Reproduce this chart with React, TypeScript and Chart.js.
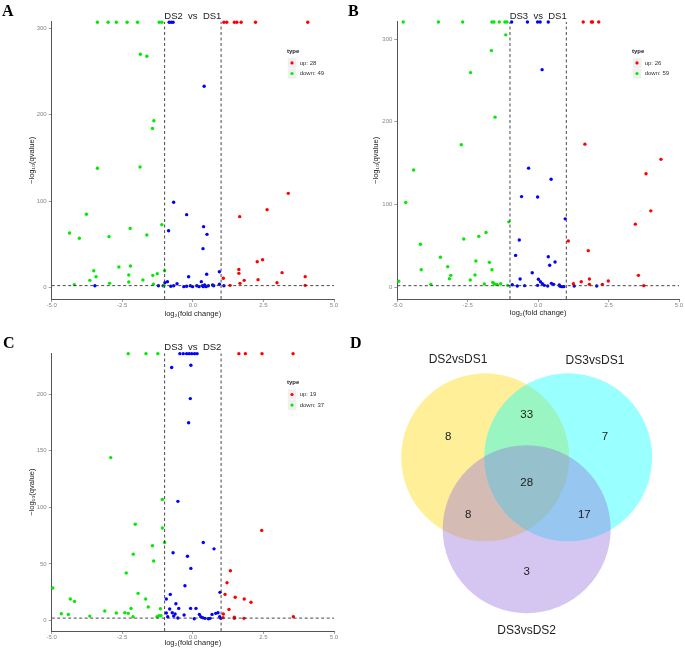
import React, { useEffect, useRef } from 'react';
import { Chart, registerables } from 'chart.js';

Chart.register(...registerables);
Chart.defaults.font.family = '"Liberation Sans", Arial, sans-serif';

type P = [number, number];

// ---------- data ----------
const X_TICKS = [-5, -2.5, 0, 2.5, 5];
const A_Y_TICKS = [0, 100, 200, 300];
const B_Y_TICKS = [0, 100, 200, 300];
const C_Y_TICKS = [0, 50, 100, 150, 200];
const FC_CUTOFF = 1;
const Q_CUTOFF = 2;

const PANEL_TITLES = ['DS2  vs  DS1', 'DS3  vs  DS1', 'DS3  vs  DS2'];
const LEGEND_UP = [28, 26, 19];
const LEGEND_DOWN = [49, 59, 37];

const A_UP: P[] = [
  [1.1, 307], [1.2, 307], [1.47, 307], [1.56, 307], [1.71, 307], [2.22, 307], [4.07, 307],
  [3.38, 108.9], [2.63, 90.0], [1.66, 81.9], [2.47, 32.0], [2.28, 29.7], [1.63, 20.8], [1.63, 16.2],
  [3.16, 17.0], [3.98, 12.4], [1.08, 10.5], [1.82, 8.1], [2.31, 8.9], [1.67, 4.6], [2.98, 5.4],
  [1.32, 2.3], [3.98, 2.3],
];
const A_DOWN: P[] = [
  [-3.38, 307], [-3.0, 307], [-2.71, 307], [-2.33, 307], [-1.96, 307], [-1.19, 307], [-1.1, 307],
  [-1.86, 270.0], [-1.63, 267.6], [-1.38, 193.0], [-1.43, 184.0], [-3.38, 138.0], [-1.87, 139.4],
  [-3.77, 84.6], [-4.37, 63.0], [-4.02, 56.8], [-2.97, 58.7], [-2.22, 68.3], [-1.63, 60.6], [-1.1, 72.6],
  [-3.51, 19.3], [-3.43, 12.3], [-3.65, 8.1], [-4.2, 3.1], [-2.62, 23.5], [-2.21, 24.7], [-2.27, 14.3],
  [-2.27, 6.2], [-2.95, 4.6], [-1.77, 8.5], [-1.42, 13.9], [-1.26, 15.8], [-1.0, 19.3], [-1.4, 3.5],
  [-1.02, 2.0],
];
const A_NS: P[] = [
  [-0.84, 307], [-0.77, 307], [-0.7, 307],
  [0.4, 233.0], [-0.68, 98.5], [-0.22, 84.2], [-0.86, 65.6], [0.38, 70.3], [0.5, 61.4], [0.36, 44.8],
  [0.94, 18.1], [0.49, 15.1], [-0.15, 12.3],
  [-3.47, 1.9], [-1.22, 1.9], [-1.05, 1.9], [-0.99, 5.4], [-0.9, 6.6], [-0.78, 1.2], [-0.68, 1.9],
  [-0.56, 4.2], [-0.32, 0.8], [-0.22, 1.2], [-0.09, 1.9], [-0.01, 0.8], [0.14, 1.9], [0.22, 0.8],
  [0.3, 6.6], [0.34, 1.9], [0.37, 0.8], [0.42, 2.7], [0.47, 0.8], [0.55, 1.9], [0.7, 2.7], [0.74, 1.9],
  [0.94, 3.5], [1.1, 1.9],
];

const B_UP: P[] = [
  [1.6, 320.5], [1.89, 320.5], [1.93, 320.5], [2.15, 320.5],
  [1.66, 173.0], [4.36, 154.6], [3.83, 137.3], [4.0, 92.4], [3.45, 76.3], [1.07, 56.0], [1.78, 44.3],
  [3.56, 14.5], [1.82, 10.0], [1.82, 3.6], [1.25, 4.4], [1.53, 6.8], [2.49, 7.6], [2.28, 3.6], [3.75, 2.0],
];
const B_DOWN: P[] = [
  [-4.79, 320.5], [-3.54, 320.5], [-2.68, 320.5], [-1.64, 320.5], [-1.57, 320.5], [-1.38, 320.5],
  [-1.18, 320.5], [-1.11, 320.5],
  [-1.15, 305.0], [-1.66, 286.0], [-2.4, 259.4], [-1.53, 205.6], [-2.73, 172.3], [-4.42, 141.8],
  [-4.7, 102.4], [-1.04, 79.1], [-1.85, 66.3],
  [-4.95, 7.3], [-4.18, 52.0], [-4.15, 21.3], [-3.81, 3.6], [-3.47, 36.3], [-3.21, 25.0], [-3.1, 14.5],
  [-3.15, 10.4], [-2.64, 58.4], [-2.11, 61.6], [-2.21, 31.8], [-2.24, 14.9], [-2.41, 8.9], [-1.91, 4.0],
  [-1.73, 30.2], [-1.64, 21.3], [-1.61, 6.0], [-1.58, 4.8], [-1.52, 3.6], [-1.46, 3.6], [-1.33, 4.4],
  [-1.08, 2.4],
];
const B_NS: P[] = [
  [-0.94, 320.5], [-0.38, 320.5], [-0.02, 320.5], [0.07, 320.5], [0.36, 320.5],
  [0.14, 263.0], [-0.34, 144.0], [0.46, 130.5], [-0.59, 109.6], [-0.02, 109.2], [0.96, 82.7],
  [-0.92, 3.2], [-0.74, 1.6], [-0.48, 2.0], [-0.67, 57.2], [-0.8, 38.6], [-0.64, 10.0], [-0.21, 17.7],
  [0.01, 9.7], [0.08, 6.8], [0.15, 4.4], [-0.02, 2.4], [0.22, 2.4], [0.34, 1.6], [0.36, 37.0],
  [0.41, 26.6], [0.6, 30.6], [0.47, 4.8], [0.55, 3.6], [0.75, 2.8], [0.78, 1.2], [0.84, 0.8],
  [0.91, 0.8], [1.28, 1.6], [2.08, 1.6],
];

const C_UP: P[] = [
  [1.63, 236], [1.86, 236], [2.45, 236], [3.55, 236],
  [2.44, 79.6], [1.33, 43.9], [1.21, 33.3], [1.14, 23.0], [1.5, 20.4], [1.82, 18.9], [2.06, 16.0],
  [1.28, 9.7], [1.08, 5.6], [1.47, 2.7], [1.47, 1.8], [1.81, 1.8], [1.07, 2.4], [3.56, 3.2],
];
const C_DOWN: P[] = [
  [-2.29, 236], [-1.66, 236], [-1.24, 236],
  [-2.91, 144.0], [-1.08, 107.0], [-2.04, 85.0], [-1.08, 81.7], [-1.0, 68.9], [-1.43, 66.0],
  [-2.11, 58.6], [-1.39, 52.5],
  [-4.96, 28.6], [-4.66, 5.9], [-4.41, 5.3], [-4.34, 18.9], [-4.19, 16.8], [-3.65, 3.8], [-3.12, 8.3],
  [-2.71, 6.5], [-2.41, 6.8], [-2.29, 6.2], [-2.12, 3.2], [-2.19, 10.6], [-2.36, 41.9], [-1.94, 23.9],
  [-1.67, 18.9], [-1.58, 11.8], [-1.15, 10.3], [-1.27, 3.2], [-1.2, 4.1], [-1.13, 4.1],
];
const C_NS: P[] = [
  [-0.46, 236], [-0.34, 236], [-0.22, 236], [-0.13, 236], [-0.04, 236], [0.06, 236], [0.15, 236],
  [-0.75, 223.7], [-0.07, 225.7], [-0.09, 196.2], [-0.15, 174.9], [-0.53, 105.3], [0.37, 68.9],
  [0.75, 63.3], [-0.7, 59.8], [-0.19, 56.8],
  [-0.94, 18.9], [-0.8, 23.0], [-0.94, 6.5], [-0.89, 3.2], [-0.82, 10.0], [-0.73, 6.8], [-0.68, 3.8],
  [-0.63, 5.6], [-0.6, 14.7], [-0.53, 2.1], [-0.5, 10.6], [-0.31, 4.7], [-0.28, 30.7], [-0.07, 46.0],
  [-0.08, 10.6], [0.11, 10.6], [0.05, 1.4], [0.23, 5.3], [0.28, 3.2], [0.35, 2.3], [0.43, 1.8],
  [0.55, 1.4], [0.61, 1.8], [0.68, 5.3], [0.81, 6.2], [0.89, 6.8], [0.96, 24.8], [0.95, 3.2], [0.99, 1.8],
];

const VENN_SETS = ['DS2vsDS1', 'DS3vsDS1', 'DS3vsDS2'];
// regions: only A, only B, only C, A∩B, A∩C, B∩C, A∩B∩C
const VENN_COUNTS = [8, 7, 3, 33, 8, 17, 28];

// ---------- layout / style ----------
const RED = 'rgb(255,0,0)';
const GREEN = 'rgb(0,235,0)';
const BLUE = 'rgb(0,0,255)';
const AXIS_GREY = '#555';
const TICK_GREY = '#858585';

type Spec = {
  left: number; top: number; width: number; height: number;
  plotLeft: number; plotRight: number; plotTop: number; plotBottom: number;
  yMin: number; yMax: number; yTicks: number[]; yTitleX: number; xTitleY: number;
  letter: string; letterX: number; letterY: number; title: string;
  up: P[]; down: P[]; ns: P[]; upN: number; downN: number;
};

const SPECS: Spec[] = [
  {
    left: 0, top: 0, width: 340, height: 320,
    plotLeft: 51.7, plotRight: 334, plotTop: 21.7, plotBottom: 299,
    yMin: -13.5, yMax: 307.7, yTicks: A_Y_TICKS, yTitleX: 31.7, xTitleY: 314.3,
    letter: 'A', letterX: 2, letterY: 15.5, title: PANEL_TITLES[0],
    up: A_UP, down: A_DOWN, ns: A_NS, upN: LEGEND_UP[0], downN: LEGEND_DOWN[0],
  },
  {
    left: 340, top: 0, width: 345, height: 320,
    plotLeft: 57.3, plotRight: 339, plotTop: 21.7, plotBottom: 299,
    yMin: -14.1, yMax: 320.9, yTicks: B_Y_TICKS, yTitleX: 36.3, xTitleY: 313.3,
    letter: 'B', letterX: 8, letterY: 15.5, title: PANEL_TITLES[1],
    up: B_UP, down: B_DOWN, ns: B_NS, upN: LEGEND_UP[1], downN: LEGEND_DOWN[1],
  },
  {
    left: 0, top: 320, width: 340, height: 331,
    plotLeft: 51.7, plotRight: 334, plotTop: 33.3, plotBottom: 311,
    yMin: -9.4, yMax: 236.3, yTicks: C_Y_TICKS, yTitleX: 31.7, xTitleY: 323.3,
    letter: 'C', letterX: 3, letterY: 28, title: PANEL_TITLES[2],
    up: C_UP, down: C_DOWN, ns: C_NS, upN: LEGEND_UP[2], downN: LEGEND_DOWN[2],
  },
];

const VENN_BOX = { left: 340, top: 320, width: 345, height: 331, cx: 186.67, cy: 137.33, pxPerUnit: 84 };
const VENN_R = 1; // circle radius in plot units
const VENN_CENTERS: P[] = [[-0.494, 0], [0.494, 0], [0, -0.855]];
const VENN_FILLS = ['rgba(255,215,0,0.4)', 'rgba(0,255,255,0.4)', 'rgba(147,112,219,0.4)'];
const VENN_SET_POS: P[] = [[-0.817, 1.159], [0.813, 1.15], [0, -2.064]];
const VENN_REGION_POS: P[] = [
  [-0.933, 0.246], [0.933, 0.246], [0, -1.369], [0, 0.504], [-0.695, -0.687], [0.686, -0.687], [0, -0.298],
];

const pts = (arr: P[]) => arr.map(([x, y]) => ({ x, y }));

const decorPlugin = {
  id: 'decor',
  afterDraw(chart: any, _args: any, opts: any) {
    const { ctx, chartArea } = chart;
    ctx.save();
    if (opts.title) {
      ctx.font = '9.5px "Liberation Sans", Arial, sans-serif';
      ctx.fillStyle = '#1a1a1a';
      ctx.textAlign = 'center';
      ctx.textBaseline = 'middle';
      ctx.fillText(opts.title, (chartArea.left + chartArea.right) / 2, chartArea.top - 5.5);
    }
    if (opts.legend) {
      const lx = chartArea.right - 47;
      const ly = chartArea.top + 29.5;
      ctx.font = 'bold 6px "Liberation Sans", Arial, sans-serif';
      ctx.fillStyle = '#222';
      ctx.textAlign = 'left';
      ctx.textBaseline = 'middle';
      ctx.fillText('type', lx, ly);
      const rows = [
        { c: RED, t: 'up: ' + opts.legend.up, dy: 11.7 },
        { c: GREEN, t: 'down: ' + opts.legend.down, dy: 22.3 },
      ];
      rows.forEach((r) => {
        ctx.fillStyle = '#f0f0f0';
        ctx.fillRect(lx + 0.8, ly + r.dy - 5.1, 8.6, 10.2);
        ctx.fillStyle = r.c;
        ctx.beginPath();
        ctx.arc(lx + 5, ly + r.dy, 1.6, 0, Math.PI * 2);
        ctx.fill();
        ctx.fillStyle = '#333';
        ctx.font = '6px "Liberation Sans", Arial, sans-serif';
        ctx.fillText(r.t, lx + 12.7, ly + r.dy);
      });
    }
    if (opts.venn) {
      const sx = chart.scales.x;
      const sy = chart.scales.y;
      ctx.fillStyle = '#222';
      ctx.textAlign = 'center';
      ctx.textBaseline = 'middle';
      ctx.font = '12px "Liberation Sans", Arial, sans-serif';
      VENN_SETS.forEach((s, i) => {
        const [x, y] = VENN_SET_POS[i];
        ctx.fillText(s, sx.getPixelForValue(x), sy.getPixelForValue(y));
      });
      ctx.font = '11.5px "Liberation Sans", Arial, sans-serif';
      VENN_COUNTS.forEach((n, i) => {
        const [x, y] = VENN_REGION_POS[i];
        ctx.fillText(String(n), sx.getPixelForValue(x), sy.getPixelForValue(y));
      });
    }
    if (opts.letter) {
      ctx.font = 'bold 16px "Liberation Serif", "DejaVu Serif", serif';
      ctx.fillStyle = '#000';
      ctx.textAlign = 'left';
      ctx.textBaseline = 'alphabetic';
      ctx.fillText(opts.letter.text, opts.letter.x, opts.letter.y);
    }
    ctx.restore();
  },
};

function volcanoConfig(s: Spec): any {
  const dash = {
    showLine: true, borderColor: '#333', borderWidth: 0.9, borderDash: [3, 2.5],
    pointRadius: 0, fill: false,
  };
  const dot = (c: string) => ({
    backgroundColor: c, borderColor: c, pointRadius: 1.7, pointBorderWidth: 0, borderWidth: 0,
    showLine: false, clip: false,
  });
  const axisFont = { size: 7.5 };
  return {
    type: 'scatter',
    data: {
      datasets: [
        { data: [{ x: -FC_CUTOFF, y: s.yMin }, { x: -FC_CUTOFF, y: s.yMax }], ...dash },
        { data: [{ x: FC_CUTOFF, y: s.yMin }, { x: FC_CUTOFF, y: s.yMax }], ...dash },
        { data: [{ x: X_TICKS[0], y: Q_CUTOFF }, { x: X_TICKS[X_TICKS.length - 1], y: Q_CUTOFF }], ...dash },
        { data: pts(s.up), ...dot(RED) },
        { data: pts(s.down), ...dot(GREEN) },
        { data: pts(s.ns), ...dot(BLUE) },
      ],
    },
    options: {
      responsive: false,
      animation: false,
      events: [],
      layout: { autoPadding: false, padding: { left: 0, right: s.width - s.plotRight, top: s.plotTop, bottom: 0 } },
      plugins: {
        legend: { display: false },
        tooltip: { enabled: false },
        decor: {
          title: s.title,
          legend: { up: s.upN, down: s.downN },
          letter: { text: s.letter, x: s.letterX, y: s.letterY },
        },
      },
      scales: {
        x: {
          type: 'linear', position: 'bottom', min: X_TICKS[0], max: X_TICKS[X_TICKS.length - 1],
          afterFit: (sc: any) => { sc.height = s.height - s.plotBottom; },
          afterBuildTicks: (sc: any) => { sc.ticks = X_TICKS.map((v) => ({ value: v })); },
          ticks: {
            font: { size: 6 }, color: TICK_GREY, padding: 0, maxRotation: 0, autoSkip: false,
            callback: (v: number) => Number(v).toFixed(1),
          },
          grid: { drawOnChartArea: false, drawTicks: true, tickLength: 3, color: TICK_GREY, lineWidth: 0.8 },
          border: { display: true, color: AXIS_GREY, width: 1 },
          title: {
            display: true, text: 'log₂(fold change)', color: '#222', font: axisFont,
            padding: { top: 0, bottom: s.height - s.xTitleY - 4.5 },
          },
        },
        y: {
          type: 'linear', position: 'left', min: s.yMin, max: s.yMax,
          afterFit: (sc: any) => { sc.width = s.plotLeft; },
          afterBuildTicks: (sc: any) => { sc.ticks = s.yTicks.map((v) => ({ value: v })); },
          ticks: { font: { size: 6 }, color: TICK_GREY, padding: 2, autoSkip: false },
          grid: { drawOnChartArea: false, drawTicks: true, tickLength: 3, color: TICK_GREY, lineWidth: 0.8 },
          border: { display: true, color: AXIS_GREY, width: 1 },
          title: {
            display: true, text: '−log₁₀(qvalue)', color: '#222', font: axisFont,
            padding: { top: s.yTitleX - 4.5, bottom: 0 },
          },
        },
      },
    },
    plugins: [decorPlugin],
  };
}

function vennConfig(): any {
  const b = VENN_BOX;
  const u = b.pxPerUnit;
  return {
    type: 'scatter',
    data: {
      datasets: VENN_SETS.map((name, i) => ({
        label: name,
        data: [{ x: VENN_CENTERS[i][0], y: VENN_CENTERS[i][1] }],
        backgroundColor: VENN_FILLS[i],
        borderColor: 'rgba(0,0,0,0)',
        pointBackgroundColor: VENN_FILLS[i],
        pointBorderWidth: 0,
        pointRadius: VENN_R * u,
        showLine: false,
        order: 3 - i,
        clip: false,
      })),
    },
    options: {
      responsive: false,
      animation: false,
      events: [],
      layout: { autoPadding: false, padding: 0 },
      plugins: {
        legend: { display: false },
        tooltip: { enabled: false },
        decor: { venn: true, letter: { text: 'D', x: 10, y: 28 } },
      },
      scales: {
        x: { type: 'linear', display: false, min: -b.cx / u, max: (b.width - b.cx) / u },
        y: { type: 'linear', display: false, min: -(b.height - b.cy) / u, max: b.cy / u },
      },
    },
    plugins: [decorPlugin],
  };
}

function ChartCanvas({ box, config }: { box: { left: number; top: number; width: number; height: number }; config: () => any }) {
  const ref = useRef<HTMLCanvasElement>(null);
  useEffect(() => {
    const chart = new Chart(ref.current as HTMLCanvasElement, config());
    return () => chart.destroy();
  }, []);
  return (
    <canvas
      ref={ref}
      width={box.width}
      height={box.height}
      style={{ position: 'absolute', left: box.left, top: box.top, width: box.width, height: box.height }}
    />
  );
}

export default function App() {
  return (
    <div style={{ position: 'absolute', left: 0, top: 0, width: 685, height: 651, background: '#fff', overflow: 'hidden' }}>
      {SPECS.map((s, i) => (
        <ChartCanvas key={i} box={s} config={() => volcanoConfig(s)} />
      ))}
      <ChartCanvas box={VENN_BOX} config={vennConfig} />
    </div>
  );
}
